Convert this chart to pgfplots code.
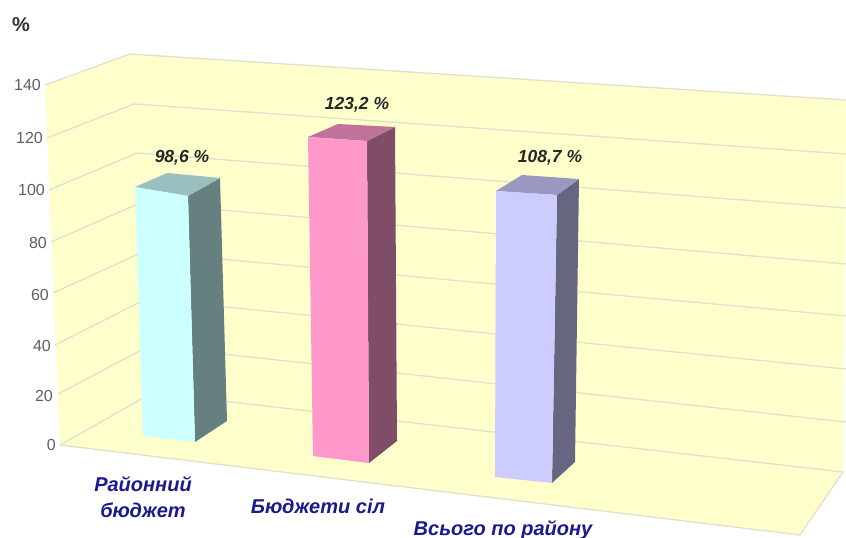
\documentclass[border=0pt]{standalone}
\usepackage{pgfplots}
\pgfplotsset{compat=1.18}
\usepackage{fontspec}
\setmainfont{Liberation Sans}
\definecolor{wall}{RGB}{255,255,204}
\definecolor{gridc}{RGB}{224,224,204}
\definecolor{tickc}{RGB}{95,95,95}
\definecolor{catc}{RGB}{26,26,140}
\definecolor{aF}{RGB}{204,255,255}\definecolor{aS}{RGB}{102,128,128}\definecolor{aT}{RGB}{153,191,191}
\definecolor{bF}{RGB}{255,153,204}\definecolor{bS}{RGB}{128,77,102}\definecolor{bT}{RGB}{191,115,153}
\definecolor{cF}{RGB}{204,204,255}\definecolor{cS}{RGB}{102,102,128}\definecolor{cT}{RGB}{153,153,191}
\newcommand{\fa}{\fontsize{16}{18}\selectfont}
\newcommand{\fb}{\fontsize{17.5}{19}\selectfont\bfseries\itshape}
\newcommand{\fc}{\fontsize{20}{26}\selectfont\bfseries\itshape}
\begin{document}
\begin{tikzpicture}
\begin{axis}[scale only axis,width=846pt,height=538pt,xmin=0,xmax=846,ymin=0,ymax=538,y dir=reverse,hide axis]
\addplot[fill=white,draw=none] coordinates {(0,0)(846,0)(846,538)(0,538)} --cycle;
\addplot[fill=wall,draw=none] coordinates {(45,85)(130,54)(846,100)(843,472)(800,535)(60,445)} --cycle;
\addplot[gridc,line width=1.3pt] coordinates {(45,85)(130,54)(846,100)};
\addplot[gridc,line width=1.3pt] coordinates {(47,138)(134,104)(846,154)};
\addplot[gridc,line width=1.3pt] coordinates {(49,190)(137,153)(846,208)};
\addplot[gridc,line width=1.3pt] coordinates {(51,242)(140,203)(846,264)};
\addplot[gridc,line width=1.3pt] coordinates {(53,293)(143,252)(846,316)};
\addplot[gridc,line width=1.3pt] coordinates {(55,345)(146,299)(846,369)};
\addplot[gridc,line width=1.3pt] coordinates {(58,394)(149,346)(846,422)};
\addplot[gridc,line width=1.3pt] coordinates {(60,445)(152,393)(843,472)};
\addplot[gridc,line width=1.3pt] coordinates {(60,445)(800,535)(843,472)};
\addplot[fill=aS,draw=none] coordinates {(188,196)(220,178)(227,421)(195,442)} --cycle;
\addplot[fill=aT,draw=none] coordinates {(135,187)(167,173)(220,178)(188,196)} --cycle;
\addplot[fill=aF,draw=none] coordinates {(135,187)(188,196)(195,442)(143,436)} --cycle;
\addplot[fill=bS,draw=none] coordinates {(367,141)(395,127)(397,441)(369,463)} --cycle;
\addplot[fill=bT,draw=none] coordinates {(308,137)(338,124)(395,127)(367,141)} --cycle;
\addplot[fill=bF,draw=none] coordinates {(308,137)(367,141)(369,463)(313,456)} --cycle;
\addplot[fill=cS,draw=none] coordinates {(557,195)(579,179)(575,462)(552,483)} --cycle;
\addplot[fill=cT,draw=none] coordinates {(496,191)(522,175)(579,179)(557,195)} --cycle;
\addplot[fill=cF,draw=none] coordinates {(496,191)(557,195)(552,483)(495,477)} --cycle;
\node[anchor=east,inner sep=0pt,text=tickc,font=\fa] at (axis cs:41,85) {140};
\node[anchor=east,inner sep=0pt,text=tickc,font=\fa] at (axis cs:43,138) {120};
\node[anchor=east,inner sep=0pt,text=tickc,font=\fa] at (axis cs:45,190) {100};
\node[anchor=east,inner sep=0pt,text=tickc,font=\fa] at (axis cs:47,243) {80};
\node[anchor=east,inner sep=0pt,text=tickc,font=\fa] at (axis cs:49,295) {60};
\node[anchor=east,inner sep=0pt,text=tickc,font=\fa] at (axis cs:51,346) {40};
\node[anchor=east,inner sep=0pt,text=tickc,font=\fa] at (axis cs:53,396) {20};
\node[anchor=east,inner sep=0pt,text=tickc,font=\fa] at (axis cs:56,445) {0};
\node[inner sep=0pt,font=\fontsize{20}{22}\selectfont\bfseries,text=black!80] at (axis cs:21,25) {\%};
\node[inner sep=0pt,font=\fb,text=black!85] at (axis cs:182,158) {98,6 \%};
\node[inner sep=0pt,font=\fb,text=black!85] at (axis cs:357,105) {123,2 \%};
\node[inner sep=0pt,font=\fb,text=black!85] at (axis cs:550,158) {108,7 \%};
\node[inner sep=0pt,align=center,font=\fc,text=catc] at (axis cs:143,497) {Районний\\бюджет};
\node[inner sep=0pt,font=\fc,text=catc] at (axis cs:318,506) {Бюджети сіл};
\node[inner sep=0pt,font=\fc,text=catc] at (axis cs:503,530) {Всього по району};
\end{axis}
\end{tikzpicture}
\end{document}
